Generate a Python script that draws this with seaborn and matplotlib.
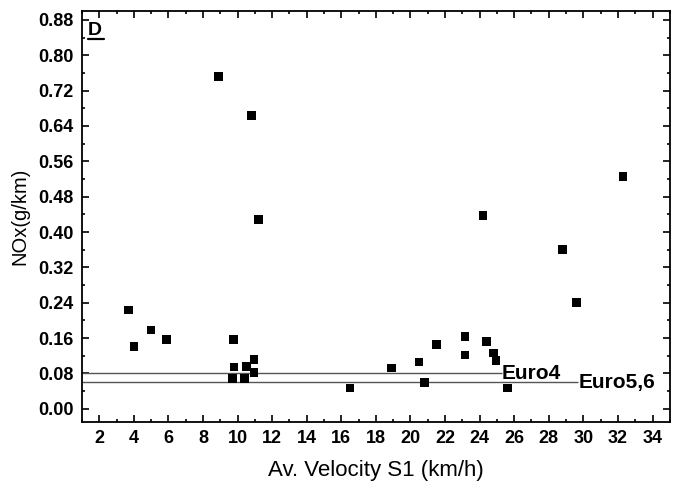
import matplotlib
matplotlib.use("Agg")
import matplotlib.pyplot as plt
import seaborn as sns
import pandas as pd
from matplotlib.ticker import MultipleLocator
from matplotlib.lines import Line2D

# data
velocity = [3.7, 4.0, 5.0, 5.9, 8.9, 9.75, 9.8, 9.7, 10.4, 10.5, 10.8, 10.95, 10.95, 11.2,
            16.5, 18.9, 20.5, 20.8, 21.5, 23.15, 23.15, 24.2, 24.4, 24.8, 24.95, 25.6,
            28.8, 29.6, 32.3]
nox = [0.223, 0.141, 0.178, 0.157, 0.752, 0.157, 0.094, 0.068, 0.069, 0.096, 0.664, 0.112, 0.082, 0.428,
       0.047, 0.092, 0.106, 0.060, 0.146, 0.164, 0.122, 0.438, 0.152, 0.126, 0.109, 0.047,
       0.361, 0.240, 0.526]
limit_names = ["Euro4", "Euro5,6"]
limit_values = [0.08, 0.06]
limit_ends = [25.3, 29.7]
x_ticks = list(range(2, 36, 2))
y_ticks = [0.00, 0.08, 0.16, 0.24, 0.32, 0.40, 0.48, 0.56, 0.64, 0.72, 0.80, 0.88]

sns.set_style("white")
plt.rcParams['font.family'] = ['Liberation Sans', 'DejaVu Sans']
plt.rcParams['text.color'] = 'black'
plt.rcParams['axes.labelcolor'] = 'black'
plt.rcParams['xtick.color'] = 'black'
plt.rcParams['ytick.color'] = 'black'

df = pd.DataFrame({"v": velocity, "nox": nox})

fig = plt.figure(figsize=(6.8, 4.83), dpi=100)
ax = fig.add_axes([0.1206, 0.1263, 0.985 - 0.1206, 0.977 - 0.1263])

for val, end in zip(limit_values, limit_ends):
    ax.hlines(val, 1, end, color="#555555", lw=1.0, zorder=1)

sns.scatterplot(data=df, x="v", y="nox", marker="s", color="black", s=38,
                edgecolor="none", ax=ax, zorder=3, legend=False)

for name, val, end in zip(limit_names, limit_values, limit_ends):
    ax.text(end, val, name, ha="left", va="center", fontsize=15, fontweight="bold")

# panel letter with underline
ax.text(0.0102, 0.9416, "D", transform=ax.transAxes, ha="left", va="baseline",
        fontsize=14, fontweight="bold")
ax.add_line(Line2D([0.0102, 0.037], [0.932, 0.932], transform=ax.transAxes,
                   color="black", lw=1.6))

ax.set_xlim(1, 35)
ax.set_ylim(-0.03, 0.9)
ax.set_xticks(x_ticks)
ax.set_yticks(y_ticks)
ax.set_yticklabels([f"{t:.2f}" for t in y_ticks])
ax.xaxis.set_minor_locator(MultipleLocator(1))
ax.yaxis.set_minor_locator(MultipleLocator(0.04))
ax.tick_params(which="both", direction="in", top=True, right=True, bottom=True, left=True,
               width=1.2, colors="black")
ax.tick_params(which="major", length=5, labelsize=13, pad=6)
ax.tick_params(which="minor", length=2.5)
for lab in ax.get_xticklabels() + ax.get_yticklabels():
    lab.set_fontweight("bold")
ax.tick_params(top=True, labeltop=False, right=True, labelright=False)

for sp in ax.spines.values():
    sp.set_linewidth(1.3)
    sp.set_color("black")

ax.set_xlabel("Av. Velocity S1 (km/h)", fontsize=16, labelpad=9)
ax.set_ylabel("NOx(g/km)", fontsize=14.5, labelpad=6)

fig.savefig("out.png", dpi=100)
